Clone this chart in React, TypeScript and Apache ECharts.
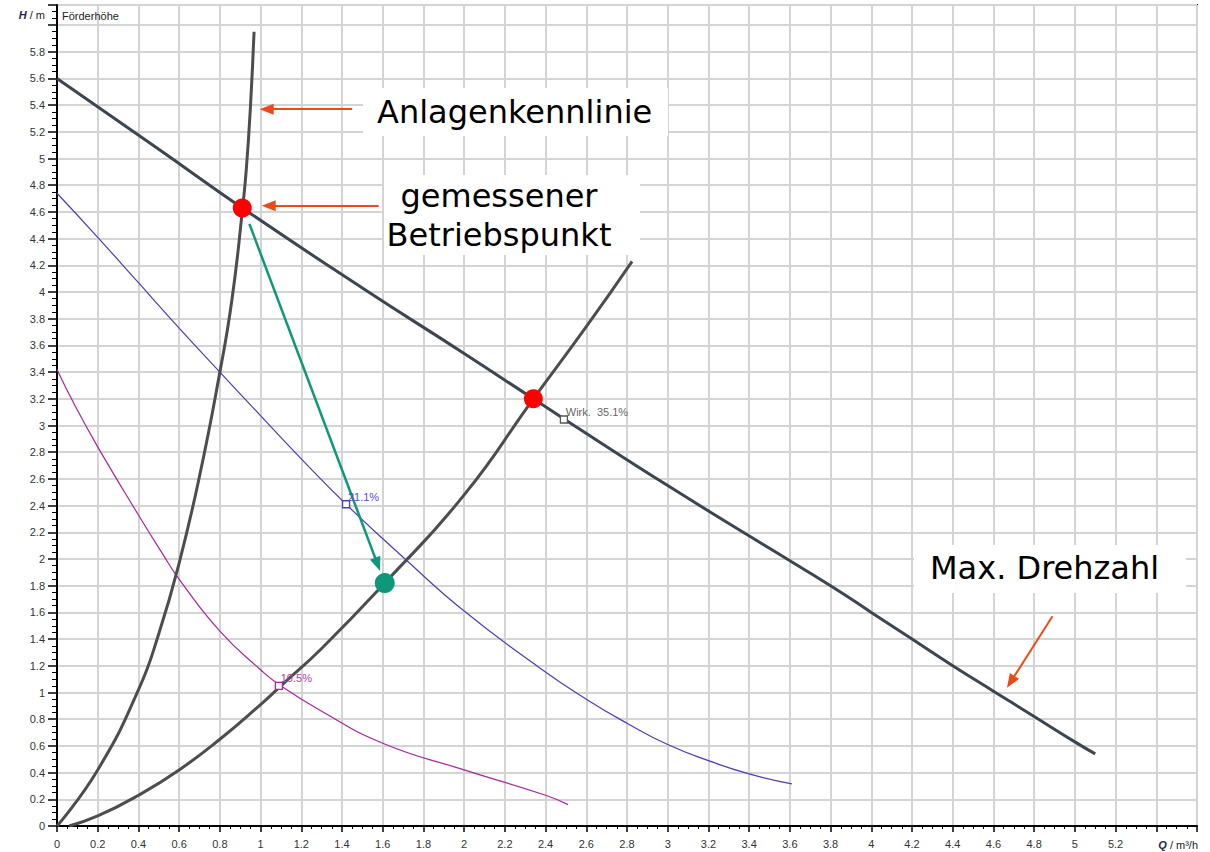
import React, { useEffect, useRef } from "react";
import * as echarts from "echarts";

// Max. Drehzahl (pump curve at max speed)
const maxSpeedQ = [0, 0.5, 0.91, 1.5, 2.0, 2.34, 2.5, 3.0, 3.5, 3.8, 4.0, 4.2, 4.4, 4.6, 4.8, 5.0, 5.1];
const maxSpeedH = [5.6, 5.07, 4.63, 4.03, 3.54, 3.2, 3.04, 2.55, 2.08, 1.8, 1.6, 1.4, 1.2, 1.01, 0.82, 0.63, 0.54];

// mid speed (blue)
const midSpeedQ = [0, 0.2, 0.4, 0.6, 0.8, 0.965, 1.2, 1.42, 1.71, 2.0, 2.375, 2.6, 2.8, 3.0, 3.2, 3.4, 3.61];
const midSpeedH = [4.74, 4.41, 4.07, 3.73, 3.4, 3.13, 2.75, 2.41, 2.0, 1.61, 1.18, 0.95, 0.77, 0.61, 0.49, 0.39, 0.315];

// low speed (magenta)
const lowSpeedQ = [0, 0.088, 0.2, 0.4, 0.514, 0.604, 0.8, 1.0, 1.09, 1.3, 1.6, 2.0, 2.4, 2.51];
const lowSpeedH = [3.42, 3.15, 2.84, 2.33, 2.05, 1.84, 1.46, 1.17, 1.06, 0.86, 0.62, 0.42, 0.23, 0.16];

// Anlagenkennlinie (steep system curve)
const systemAQ = [0, 0.2, 0.4, 0.5, 0.6, 0.7, 0.8, 0.86, 0.912, 0.93, 0.95, 0.968];
const systemAH = [0, 0.42, 1.02, 1.44, 1.97, 2.62, 3.4, 3.95, 4.63, 4.92, 5.38, 5.95];

// second system curve
const systemBQ = [0.06, 0.2, 0.4, 0.6, 0.8, 1.0, 1.1, 1.3, 1.61, 2.0, 2.34, 2.6, 2.825];
const systemBH = [0, 0.075, 0.23, 0.42, 0.65, 0.91, 1.05, 1.33, 1.82, 2.48, 3.2, 3.74, 4.23];

// operating points
const redPoints = [[0.91, 4.63], [2.34, 3.2]];
const greenPoint = [[1.61, 1.82]];

// efficiency markers
const effMarkers = [
  { q: 2.49, h: 3.045, label: "Wirk.  35.1%", color: "#555555", text: "#666666" },
  { q: 1.42, h: 2.41, label: "21.1%", color: "#4a3cc0", text: "#5a4acb" },
  { q: 1.09, h: 1.05, label: "10.5%", color: "#a8249c", text: "#b040b0" },
];

// arrows in data coordinates [from, to]
const greenArrow = [[0.945, 4.51], [1.575, 1.96]];
const orangeArrows = [
  [[1.45, 5.37], [1.03, 5.37]],
  [[1.58, 4.647], [1.04, 4.647]],
  [[4.89, 1.571], [4.685, 1.08]],
];

const pairs = (q: number[], h: number[]) => q.map((v, i) => [v, h[i]]);
const fmt = (v: number) => `${+v.toFixed(1)}`;

export default function App() {
  const ref = useRef<HTMLDivElement>(null);
  useEffect(() => {
    if (!ref.current) return;
    const chart = echarts.init(ref.current, undefined, { renderer: "svg" });
    const axisFont = { color: "#333", fontFamily: "Liberation Sans, Arial", fontSize: 11 };
    const annFont = "32px 'DejaVu Sans', Verdana, sans-serif";
    const orange = "#ee4a16";
    const teal = "#0f977a";
    const lineBase = { showSymbol: false, smooth: 0.5 };
    chart.setOption({
      animation: false,
      backgroundColor: "#ffffff",
      grid: {
        left: 57, top: 5, right: 13, bottom: 26,
        show: true, borderColor: "#111", borderWidth: 2, backgroundColor: "#fff",
      },
      xAxis: {
        type: "value", min: 0, max: 5.6, interval: 0.2,
        axisLine: { show: true, onZero: false, lineStyle: { color: "#000", width: 2 } },
        axisTick: { show: true, length: 6, lineStyle: { color: "#000", width: 1.5 } },
        minorTick: { show: true, splitNumber: 4, length: 3, lineStyle: { color: "#000", width: 1 } },
        splitLine: { show: true, lineStyle: { color: "#d4d4d4", width: 2 } },
        axisLabel: { ...axisFont, margin: 12, formatter: (v: number) => (v > 5.3 ? "" : fmt(v)) },
      },
      yAxis: {
        type: "value", min: 0, max: 6.15, interval: 0.2,
        axisLine: { show: true, onZero: false, lineStyle: { color: "#000", width: 2 } },
        axisTick: { show: true, length: 9, lineStyle: { color: "#000", width: 1.5 } },
        minorTick: { show: true, splitNumber: 4, length: 5, lineStyle: { color: "#000", width: 1 } },
        splitLine: { show: true, lineStyle: { color: "#d4d4d4", width: 2 } },
        axisLabel: { ...axisFont, margin: 12, formatter: (v: number) => (v > 5.9 ? "" : fmt(v)) },
      },
      series: [
        {
          type: "line", name: "low", data: pairs(lowSpeedQ, lowSpeedH), ...lineBase,
          lineStyle: { color: "#a8249c", width: 1.2 }, z: 3,
        },
        {
          type: "line", name: "mid", data: pairs(midSpeedQ, midSpeedH), ...lineBase,
          lineStyle: { color: "#4a3cc0", width: 1.2 }, z: 3,
        },
        {
          type: "line", name: "max", data: pairs(maxSpeedQ, maxSpeedH), ...lineBase,
          lineStyle: { color: "#3b4650", width: 3 }, z: 4,
        },
        {
          type: "line", name: "sysA", data: pairs(systemAQ, systemAH), ...lineBase,
          lineStyle: { color: "#4d4d4d", width: 3 }, z: 4,
        },
        {
          type: "line", name: "sysB", data: pairs(systemBQ, systemBH), ...lineBase,
          lineStyle: { color: "#4d4d4d", width: 3 }, z: 4,
        },
        ...effMarkers.map((m) => ({
          type: "scatter", data: [[m.q, m.h]], symbol: "rect", symbolSize: 7, z: 6,
          itemStyle: { color: "#fff", borderColor: m.color, borderWidth: 1.3, opacity: 1 },
          label: {
            show: true, formatter: m.label, position: [6, -9], color: m.text,
            fontFamily: "Liberation Sans, Arial", fontSize: 11,
          },
        })),
        {
          type: "scatter", data: redPoints, symbolSize: 19, z: 8,
          itemStyle: { color: "#ff0000", opacity: 1 },
          markLine: {
            silent: true, animation: false, symbol: ["none", "triangle"], symbolSize: [11, 14],
            label: { show: false },
            data: [
              [
                { coord: greenArrow[0], lineStyle: { color: teal, width: 2.5, type: "solid" }, itemStyle: { color: teal } },
                { coord: greenArrow[1] },
              ],
              ...orangeArrows.map((a) => [
                { coord: a[0], lineStyle: { color: orange, width: 2, type: "solid" }, itemStyle: { color: orange } },
                { coord: a[1] },
              ]),
            ],
          },
        },
        {
          type: "scatter", data: greenPoint, symbolSize: 20, z: 8,
          itemStyle: { color: teal, opacity: 1 },
        },
      ],
      graphic: [
        { type: "rect", z: 50, shape: { x: 363, y: 88, width: 305, height: 48 }, style: { fill: "#fff" } },
        { type: "rect", z: 50, shape: { x: 384, y: 175, width: 256, height: 80 }, style: { fill: "#fff" } },
        { type: "rect", z: 50, shape: { x: 914, y: 545, width: 272, height: 48 }, style: { fill: "#fff" } },
        {
          type: "text", z: 60, x: 377, y: 112,
          style: { text: "Anlagenkennlinie", font: annFont, fill: "#000", verticalAlign: "middle" },
        },
        {
          type: "text", z: 60, x: 499, y: 196,
          style: { text: "gemessener", font: annFont, fill: "#000", align: "center", verticalAlign: "middle" },
        },
        {
          type: "text", z: 60, x: 499, y: 235,
          style: { text: "Betriebspunkt", font: annFont, fill: "#000", align: "center", verticalAlign: "middle" },
        },
        {
          type: "text", z: 60, x: 930, y: 568,
          style: { text: "Max. Drehzahl", font: annFont, fill: "#000", verticalAlign: "middle" },
        },
        {
          type: "text", z: 60, x: 62, y: 16,
          style: { text: "Förderhöhe", font: "11px 'Liberation Sans', Arial", fill: "#222", verticalAlign: "middle" },
        },
        {
          type: "text", z: 60, x: 45, y: 15,
          style: {
            text: "{i|H}{n| / m}", align: "right", verticalAlign: "middle",
            rich: {
              i: { fontStyle: "italic", fontWeight: "bold", fontFamily: "Liberation Sans, Arial", fontSize: 11, fill: "#1f2a44" },
              n: { fontFamily: "Liberation Sans, Arial", fontSize: 11, fill: "#222" },
            },
          },
        },
        {
          type: "text", z: 60, x: 1198, y: 845,
          style: {
            text: "{i|Q}{n| / m³/h}", align: "right", verticalAlign: "middle",
            rich: {
              i: { fontStyle: "italic", fontWeight: "bold", fontFamily: "Liberation Sans, Arial", fontSize: 11, fill: "#1f2a44" },
              n: { fontFamily: "Liberation Sans, Arial", fontSize: 11, fill: "#222" },
            },
          },
        },
      ],
    });
    return () => chart.dispose();
  }, []);
  return (
    <div
      ref={ref}
      style={{ position: "absolute", left: 0, top: 0, width: 1210, height: 852, background: "#fff" }}
    />
  );
}
